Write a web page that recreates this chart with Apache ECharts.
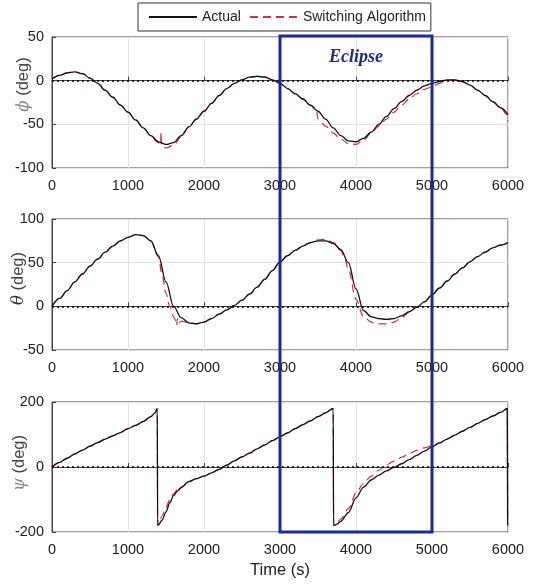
<!DOCTYPE html>
<html>
<head>
<meta charset="utf-8">
<script src="https://cdn.jsdelivr.net/npm/echarts@6/dist/echarts.min.js"></script>
<style>html,body{margin:0;padding:0;background:#fff}#c{width:536px;height:588px}</style>
</head>
<body>
<div id="c"></div>
<script>
// ---- Data ----
const tBase = [0,100,200,300,400,500,600,700,800,900,1000,1100,1200,1300,1400,1500,1600,1700,1800,1900,2000,2100,2200,2300,2400,2500,2600,2700,2800,2900,3000,3100,3200,3300,3400,3500,3600,3700,3800,3900,4000,4100,4200,4300,4400,4500,4600,4700,4800,4900,5000,5100,5200,5300,5400,5500,5600,5700,5800,5900,6000];

const phiActual = [2,6,9,10,8,3,-3,-11,-19,-28,-36,-45,-54,-63,-70,-73,-71,-63,-53,-44,-35,-26,-17,-9,-3,1,4,5,4,1,-3,-9,-15,-21,-28,-35,-44,-54,-63,-69,-70,-66,-59,-50,-41,-32,-24,-17,-11,-6,-3,-1,1,1,-1,-5,-11,-17,-24,-31,-39];

const phiSwitchT = [0,100,200,300,400,500,600,700,800,900,1000,1100,1200,1300,1400,1430,1435,1440,1500,1600,1700,1800,1900,2000,2100,2200,2300,2400,2500,2600,2700,2800,2900,3000,3100,3200,3300,3400,3480,3500,3600,3700,3800,3900,4000,4100,4200,4300,4400,4500,4600,4700,4800,4900,5000,5100,5200,5300,5400,5500,5600,5700,5800,5900,5990,6000];
const phiSwitch = [2,6,9,10,8,3,-3,-11,-19,-28,-36,-45,-54,-63,-71,-73,-59,-75,-77,-74,-64,-53,-44,-35,-26,-17,-9,-3,1,4,5,4,1,-3,-9,-15,-21,-28,-34,-44,-52,-60,-67,-72,-73,-68,-60,-52,-44,-36,-28,-21,-15,-10,-7,-3,0,1,-1,-5,-11,-17,-24,-31,-39,-46];

const thetaActual = [0,9,18,28,37,46,54,62,69,75,79,82,81,75,58,28,0,-13,-19,-20,-18,-14,-9,-4,1,7,14,22,31,41,51,58,64,69,73,75,75,72,65,50,20,-5,-12,-14,-15,-14,-11,-6,-1,5,13,21,29,37,44,51,57,62,67,70,73];

const thetaSwitchT = [0,100,200,300,400,500,600,700,800,900,1000,1100,1200,1300,1400,1450,1500,1550,1600,1620,1640,1650,1660,1700,1800,1900,2000,2100,2200,2300,2400,2500,2600,2700,2800,2900,3000,3100,3200,3300,3400,3500,3600,3700,3800,3850,3900,4000,4100,4200,4300,4400,4500,4600,4700,4800,4900,5000,5100,5200,5300,5400,5500,5600,5700,5800,5900,6000];
const thetaSwitch = [0,9,18,28,37,46,54,62,69,75,79,82,81,75,57,35,15,0,-12,-15,-22,-14,-20,-17,-19,-20,-18,-14,-9,-4,1,7,14,22,31,41,51,58,64,69,73,76,77,73,64,55,42,8,-12,-18,-20,-20,-18,-13,-7,-1,5,13,21,29,37,44,51,57,62,67,70,73];

const psiActualT = [0,100,200,300,400,500,600,700,800,900,1000,1100,1200,1300,1350,1385,1390,1400,1450,1500,1550,1600,1650,1700,1800,1900,2000,2100,2200,2300,2400,2500,2600,2700,2800,2900,3000,3100,3200,3300,3400,3500,3600,3700,3705,3750,3800,3900,4000,4100,4200,4300,4400,4500,4600,4700,4800,4900,5000,5100,5200,5300,5400,5500,5600,5700,5800,5900,5990,5995];
const psiActual = [0,14,27,40,52,64,75,86,96,106,118,128,140,155,165,180,-180,-178,-163,-138,-110,-88,-74,-63,-45,-36,-28,-18,-7,6,19,31,43,56,68,81,93,105,118,130,142,155,167,180,-180,-176,-167,-140,-95,-62,-40,-25,-12,-1,10,23,36,49,62,74,86,98,110,122,134,146,157,168,180,-180];

const psiSwitchT = [0,100,200,300,400,500,600,700,800,900,1000,1100,1200,1300,1350,1385,1390,1400,1450,1500,1550,1600,1650,1660,1700,1800,1900,2000,2100,2200,2300,2400,2500,2600,2700,2800,2900,3000,3100,3200,3300,3400,3500,3600,3700,3705,3750,3800,3900,4000,4100,4200,4300,4400,4500,4600,4700,4800,4900,5000,5100,5200,5300,5400,5500,5600,5700,5800,5900,5990,5995];
const psiSwitch = [0,14,27,40,52,64,75,86,96,106,118,128,140,155,165,180,-180,-175,-150,-124,-100,-82,-70,-76,-63,-45,-36,-28,-18,-7,6,19,31,43,56,68,81,93,105,118,130,142,155,167,180,-180,-172,-160,-128,-80,-50,-28,-10,6,18,30,41,51,59,66,74,86,98,110,122,134,146,157,168,180,-180];

const eclipseStart = 3000, eclipseEnd = 5000;

// ---- Chart ----
const zip = (t, v) => t.map((x, i) => [x, v[i]]);
const FONT = 'Liberation Sans, Arial, sans-serif';
const chart = echarts.init(document.getElementById('c'), null, {renderer: 'canvas'});

const grids = [
  {left: 52, right: 28, top: 37, height: 131},
  {left: 52, right: 28, top: 219, height: 131},
  {left: 52, right: 28, top: 402, height: 130}
].map(g => Object.assign(g, {show: true, borderColor: '#444', borderWidth: 1, backgroundColor: 'transparent',
  containLabel: false, outerBoundsMode: 'none'}));

function xAx(i, last) {
  return {
    type: 'value', gridIndex: i, min: 0, max: 6000, interval: 1000,
    axisLine: {show: true, lineStyle: {color: '#444'}},
    axisTick: {show: true, inside: true, length: 4, lineStyle: {color: '#444'}},
    axisLabel: {color: '#222', fontSize: 14.5, fontFamily: FONT, margin: 10, formatter: v => String(v)},
    splitLine: {show: true, lineStyle: {color: '#e2e2e2'}},
    name: last ? 'Time (s)' : '', nameLocation: 'middle', nameGap: 30, nameMoveOverlap: false,
    nameTextStyle: {color: '#222', fontSize: 16.5, fontFamily: FONT}
  };
}
function yAx(i, min, max, interval, sym, symColor, gap, lift) {
  return {
    type: 'value', gridIndex: i, min, max, interval,
    axisLine: {show: true, lineStyle: {color: '#444'}},
    axisTick: {show: true, inside: true, length: 4, lineStyle: {color: '#444'}},
    axisLabel: {color: '#222', fontSize: 14.5, fontFamily: FONT, margin: 8, formatter: v => String(v)},
    splitLine: {show: true, lineStyle: {color: '#e2e2e2'}},
    name: '{s|' + sym + '} (deg)', nameLocation: 'middle', nameGap: gap, nameRotate: 90, nameMoveOverlap: false,
    nameTextStyle: {color: '#444', fontSize: 16.5, fontFamily: FONT, padding: [0, 0, 0, lift],
      rich: {s: {fontFamily: 'DejaVu Serif, serif', fontStyle: 'italic', fontSize: 16.5, color: symColor}}}
  };
}

const zeroLine = {
  silent: true, symbol: ['none', 'none'], label: {show: false},
  lineStyle: {type: [2, 3], color: '#000', width: 1.5},
  data: [{yAxis: 0}]
};
const RED = '#c4314b';
function actual(i, data, smooth) {
  return {name: 'Actual', type: 'line', xAxisIndex: i, yAxisIndex: i, data, showSymbol: false, symbol: 'none',
    smooth, smoothMonotone: 'x', lineStyle: {color: '#111', width: 1.3}, itemStyle: {color: '#111'}, z: 3, markLine: zeroLine};
}
function sw(i, data, smooth) {
  return {name: 'Switching Algorithm', type: 'line', xAxisIndex: i, yAxisIndex: i, data, showSymbol: false, symbol: 'none',
    smooth, smoothMonotone: 'x', lineStyle: {color: RED, width: 1.2, type: [8, 5]}, itemStyle: {color: RED}, z: 2};
}

chart.setOption({
  animation: false,
  backgroundColor: '#fff',
  legend: {
    left: 138, top: 3, padding: [7, 5, 7, 10], itemGap: 8, itemWidth: 48, itemHeight: 10,
    itemStyle: {opacity: 0},
    borderColor: '#333', borderWidth: 1, backgroundColor: '#fff',
    textStyle: {color: '#222', fontSize: 14, fontFamily: FONT},
    data: ['Actual', 'Switching Algorithm']
  },
  grid: grids,
  xAxis: [xAx(0, false), xAx(1, false), xAx(2, true)],
  yAxis: [
    yAx(0, -100, 50, 50, 'ϕ', '#888', 20, 36),
    yAx(1, -50, 100, 50, 'θ', '#333', 25, 12),
    yAx(2, -200, 200, 200, 'ψ', '#888', 24, 8)
  ],
  series: [
    actual(0, zip(tBase, phiActual), 0.35), sw(0, zip(phiSwitchT, phiSwitch), 0.35),
    actual(1, zip(tBase, thetaActual), 0.35), sw(1, zip(thetaSwitchT, thetaSwitch), 0.35),
    actual(2, zip(psiActualT, psiActual), 0.3), sw(2, zip(psiSwitchT, psiSwitch), 0.3)
  ]
});

// Eclipse box positioned through the axes' scales
const p1 = chart.convertToPixel({gridIndex: 0}, [eclipseStart, 50]);
const p2 = chart.convertToPixel({gridIndex: 2}, [eclipseEnd, -200]);
chart.setOption({
  graphic: [
    {type: 'rect', z: 100, shape: {x: p1[0], y: p1[1] - 1, width: p2[0] - p1[0], height: p2[1] - p1[1] + 1},
      style: {fill: 'none', stroke: '#1d2b96', lineWidth: 3}},
    {type: 'text', z: 100, x: (p1[0] + p2[0]) / 2, y: p1[1] + 20,
      style: {text: 'Eclipse', fill: '#1d2b8a', font: 'italic bold 18px "Liberation Serif", "DejaVu Serif", serif', align: 'center', verticalAlign: 'middle'}}
  ]
});
</script>
</body>
</html>
